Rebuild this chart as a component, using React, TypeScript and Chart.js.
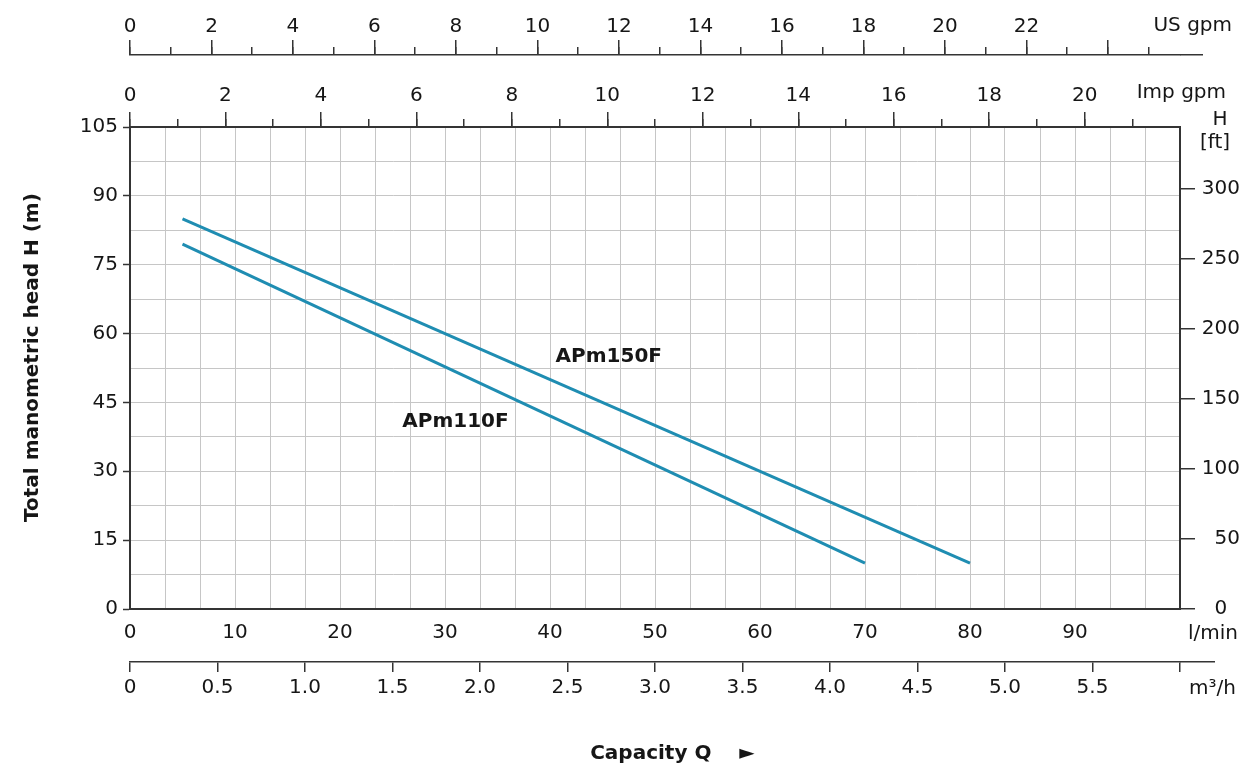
import React, { useEffect, useRef } from 'react';
import { Chart, registerables } from 'chart.js';

Chart.register(...registerables);

// ---------- data ----------
// capacity Q in l/min, total head H in m
const flowAPm150F = [5, 80];
const headAPm150F = [85, 10];
const flowAPm110F = [5, 70];
const headAPm110F = [79.5, 10];
const seriesNames = ['APm150F', 'APm110F'];

// ---------- axis ticks ----------
const lminLabelled = [0, 10, 20, 30, 40, 50, 60, 70, 80, 90];
const m3hTicks = [0, 0.5, 1, 1.5, 2, 2.5, 3, 3.5, 4, 4.5, 5, 5.5, 6];
const m3hLabelled = [0, 0.5, 1, 1.5, 2, 2.5, 3, 3.5, 4, 4.5, 5, 5.5];
const usGpmTicks = [0, 1, 2, 3, 4, 5, 6, 7, 8, 9, 10, 11, 12, 13, 14, 15, 16, 17, 18, 19, 20, 21, 22, 23, 24, 25];
const usGpmLabelled = [0, 2, 4, 6, 8, 10, 12, 14, 16, 18, 20, 22];
const usGpmMajor = [0, 2, 4, 6, 8, 10, 12, 14, 16, 18, 20, 22, 24];
const impGpmTicks = [0, 1, 2, 3, 4, 5, 6, 7, 8, 9, 10, 11, 12, 13, 14, 15, 16, 17, 18, 19, 20, 21];
const impGpmLabelled = [0, 2, 4, 6, 8, 10, 12, 14, 16, 18, 20];
const headLabelled = [0, 15, 30, 45, 60, 75, 90, 105];
const ftTicks = [0, 50, 100, 150, 200, 250, 300];

// ---------- axis ranges ----------
const lminMax = 100;
const m3hMax = 6;
const headMax = 105;
const usGpmMax = 25.77; // as drawn on the reference's top scale
const lminPerImpGpm = 4.54609;
const ftPerM = 3.28084;
const gridStepM3h = 0.2;
const gridStepHead = 7.5;

const FONT = '"DejaVu Sans", sans-serif';
const TEXT = '#161616';
const DARK = '#343434';
const GRID = '#c6c6c6';
const CURVE = '#1f8db2';

const tickFont = { family: FONT, size: 20 };
const boldFont = { family: FONT, size: 20, weight: 'bold' as const };

const near = (a: number, list: number[]) => list.some((v) => Math.abs(v - a) < 1e-6);

const curveLabels = [
  { text: seriesNames[0], q: 45.6, h: 55 },
  { text: seriesNames[1], q: 31.0, h: 40.8 },
];

const TICK_W = 1.5;
const alignPx = (p: number, w: number) => Math.round(p - w / 2) + w / 2;

const extrasPlugin = {
  id: 'extras',
  afterDraw(chart: any) {
    const ctx = chart.ctx as CanvasRenderingContext2D;
    const { usgpm, impgpm, m3h, x, y } = chart.scales;
    const W = chart.width;
    ctx.save();
    ctx.strokeStyle = DARK;
    ctx.lineWidth = TICK_W;
    ctx.lineCap = 'butt';
    const line = (x1: number, y1: number, x2: number, y2: number) => {
      ctx.beginPath();
      ctx.moveTo(x1, y1);
      ctx.lineTo(x2, y2);
      ctx.stroke();
    };
    // longer major ticks on the top scales
    for (const v of usGpmMajor) {
      const px = alignPx(usgpm.getPixelForValue(v), TICK_W);
      line(px, usgpm.bottom - 1, px, usgpm.bottom - 15);
    }
    for (const v of impGpmLabelled) {
      const px = alignPx(impgpm.getPixelForValue(v), TICK_W);
      line(px, impgpm.bottom - 1, px, impgpm.bottom - 15);
    }
    // outer axis lines run a bit past the plot
    line(usgpm.right, alignPx(usgpm.bottom, TICK_W), usgpm.right + 23, alignPx(usgpm.bottom, TICK_W));
    line(m3h.right, alignPx(m3h.top, TICK_W), m3h.right + 35, alignPx(m3h.top, TICK_W));

    // unit labels
    ctx.fillStyle = TEXT;
    ctx.font = `20px ${FONT}`;
    ctx.textBaseline = 'middle';
    ctx.textAlign = 'right';
    ctx.fillText('US gpm', W - 8, 26);
    ctx.fillText('Imp gpm', W - 14, 93);
    ctx.fillText('l/min', W - 2, 634);
    ctx.fillText('m³/h', W - 4, 689);
    ctx.textAlign = 'center';
    ctx.fillText('H', W - 20, 120);
    ctx.fillText('[ft]', W - 25, 143);

    // curve labels
    ctx.font = `bold 20px ${FONT}`;
    for (const l of curveLabels) {
      ctx.fillText(l.text, x.getPixelForValue(l.q), y.getPixelForValue(l.h));
    }
    ctx.restore();
  },
};

export default function App() {
  const ref = useRef<HTMLCanvasElement | null>(null);

  useEffect(() => {
    if (!ref.current) return;
    const chart = new Chart(ref.current, {
      type: 'line',
      data: {
        datasets: [
          {
            label: seriesNames[0],
            data: flowAPm150F.map((q, i) => ({ x: q, y: headAPm150F[i] })),
            borderColor: CURVE,
            borderWidth: 3,
            pointRadius: 0,
            tension: 0,
            xAxisID: 'x',
            yAxisID: 'y',
          },
          {
            label: seriesNames[1],
            data: flowAPm110F.map((q, i) => ({ x: q, y: headAPm110F[i] })),
            borderColor: CURVE,
            borderWidth: 3,
            pointRadius: 0,
            tension: 0,
            xAxisID: 'x',
            yAxisID: 'y',
          },
        ],
      },
      options: {
        responsive: false,
        animation: false,
        devicePixelRatio: 1,
        layout: { padding: 0 },
        plugins: { legend: { display: false }, tooltip: { enabled: false } },
        scales: {
          x: {
            type: 'linear',
            position: 'bottom',
            weight: 0,
            min: 0,
            max: lminMax,
            afterBuildTicks: (s: any) => {
              const n = Math.round(m3hMax / gridStepM3h);
              const t = [];
              for (let k = 0; k <= n; k++) t.push({ value: (k * gridStepM3h * lminMax) / m3hMax });
              s.ticks = t;
            },
            ticks: {
              autoSkip: false,
              maxRotation: 0,
              padding: 12,
              color: TEXT,
              font: tickFont,
              callback: (v: any) => {
                const r = Math.round(v);
                return Math.abs(v - r) < 1e-6 && near(r, lminLabelled) ? String(r) : '';
              },
            },
            grid: { color: GRID, lineWidth: 1, drawTicks: false },
            border: { color: DARK, width: 2 },
            afterFit: (s: any) => {
              s.height = 53;
            },
          },
          m3h: {
            type: 'linear',
            position: 'bottom',
            weight: 1,
            min: 0,
            max: m3hMax,
            afterBuildTicks: (s: any) => {
              s.ticks = m3hTicks.map((v) => ({ value: v }));
            },
            ticks: {
              autoSkip: false,
              maxRotation: 0,
              padding: 4,
              color: TEXT,
              font: tickFont,
              callback: (v: any) => (near(v, m3hLabelled) ? (v === 0 ? '0' : Number(v).toFixed(1)) : ''),
            },
            grid: { drawOnChartArea: false, tickLength: 10, color: DARK, lineWidth: TICK_W },
            border: { color: DARK, width: TICK_W },
            title: {
              display: true,
              text: '     Capacity Q    ►',
              color: TEXT,
              font: boldFont,
              padding: { top: 0, bottom: 0 },
            },
            afterFit: (s: any) => {
              s.height = 104;
            },
          },
          impgpm: {
            type: 'linear',
            position: 'top',
            weight: 0,
            min: 0,
            max: lminMax / lminPerImpGpm,
            afterBuildTicks: (s: any) => {
              s.ticks = impGpmTicks.map((v) => ({ value: v }));
            },
            ticks: {
              autoSkip: false,
              maxRotation: 0,
              padding: 11,
              color: TEXT,
              font: tickFont,
              callback: (v: any) => (near(v, impGpmLabelled) ? String(v) : ''),
            },
            grid: { drawOnChartArea: false, tickLength: 8, color: DARK, lineWidth: TICK_W },
            border: { color: DARK, width: 2 },
            afterFit: (s: any) => {
              s.height = 72;
            },
          },
          usgpm: {
            type: 'linear',
            position: 'top',
            weight: 1,
            min: 0,
            max: usGpmMax,
            afterBuildTicks: (s: any) => {
              s.ticks = usGpmTicks.map((v) => ({ value: v }));
            },
            ticks: {
              autoSkip: false,
              maxRotation: 0,
              padding: 8,
              color: TEXT,
              font: tickFont,
              callback: (v: any) => (near(v, usGpmLabelled) ? String(v) : ''),
            },
            grid: { drawOnChartArea: false, tickLength: 8, color: DARK, lineWidth: TICK_W },
            border: { color: DARK, width: TICK_W },
            afterFit: (s: any) => {
              s.height = 55;
            },
          },
          y: {
            type: 'linear',
            position: 'left',
            min: 0,
            max: headMax,
            afterBuildTicks: (s: any) => {
              const n = Math.round(headMax / gridStepHead);
              const t = [];
              for (let k = 0; k <= n; k++) t.push({ value: k * gridStepHead });
              s.ticks = t;
            },
            ticks: {
              autoSkip: false,
              padding: 5,
              color: TEXT,
              font: tickFont,
              callback: (v: any) => (near(v, headLabelled) ? String(v) : ''),
            },
            grid: {
              color: GRID,
              lineWidth: 1,
              tickLength: 7,
              tickColor: (c: any) => (c.tick && near(c.tick.value, headLabelled) ? DARK : 'rgba(0,0,0,0)'),
              tickWidth: TICK_W,
            },
            border: { color: DARK, width: 2 },
            title: {
              display: true,
              text: '   Total manometric head H (m)',
              color: TEXT,
              font: boldFont,
              padding: { top: 21, bottom: 0 },
            },
            afterFit: (s: any) => {
              s.width = 130;
            },
          },
          yft: {
            type: 'linear',
            position: 'right',
            min: 0,
            max: headMax * ftPerM,
            afterBuildTicks: (s: any) => {
              s.ticks = ftTicks.map((v) => ({ value: v }));
            },
            ticks: {
              autoSkip: false,
              padding: 3,
              crossAlign: 'far',
              color: TEXT,
              font: tickFont,
              callback: (v: any) => (v === 0 ? '0\u2007' : String(v)),
            },
            grid: { drawOnChartArea: false, tickLength: 15, color: DARK, lineWidth: TICK_W },
            border: { color: DARK, width: 2 },
            afterFit: (s: any) => {
              s.width = 60;
            },
          },
        },
      } as any,
      plugins: [extrasPlugin],
    });
    return () => chart.destroy();
  }, []);

  return (
    <div style={{ position: 'absolute', left: 0, top: 0, width: 1240, height: 766, background: '#fff' }}>
      <canvas ref={ref} width={1240} height={766} style={{ display: 'block' }} />
    </div>
  );
}
